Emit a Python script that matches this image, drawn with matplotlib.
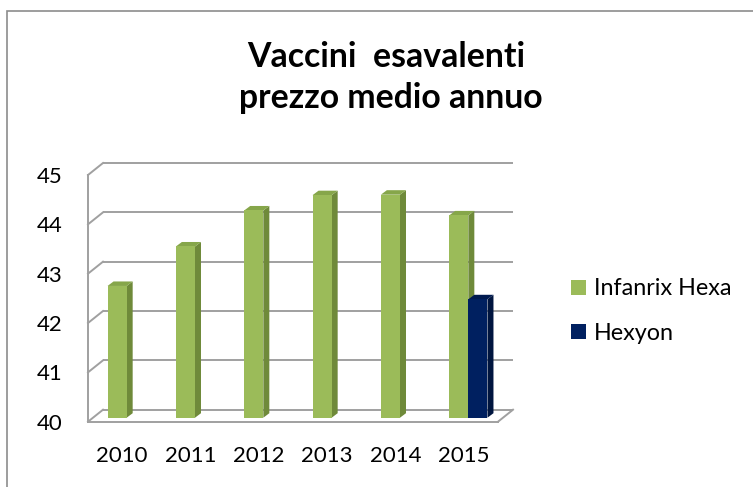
import matplotlib
matplotlib.use("Agg")
import matplotlib.pyplot as plt
from matplotlib.patches import Polygon, Rectangle
from matplotlib.transforms import IdentityTransform, offset_copy
from matplotlib.lines import Line2D
import numpy as np

# ---- data ----
years = ["2010", "2011", "2012", "2013", "2014", "2015"]
infanrix = [42.67, 43.47, 44.2, 44.51, 44.52, 44.1]
hexyon = [np.nan, np.nan, np.nan, np.nan, np.nan, 42.4]
series_names = ["Infanrix Hexa", "Hexyon"]
yticks = [40, 41, 42, 43, 44, 45]
title_lines = ["Vaccini  esavalenti", "prezzo medio annuo"]

FONT = "Lato"
plt.rcParams["font.family"] = [FONT, "DejaVu Sans"]

W, H = 753, 487
DPI = 100
fig = plt.figure(figsize=(W / DPI, H / DPI), dpi=DPI)
fig.patch.set_facecolor("white")

# outer frame
fig.add_artist(Rectangle((7 / W, -0.05), 1.2, (H - 11) / H + 0.05,
                         transform=fig.transFigure, fill=False,
                         edgecolor="#8c8c8c", lw=1.2))

# front plane axes
left_px, right_px, bot_px, top_px = 88, 498, 421.7, 175
ax = fig.add_axes([left_px / W, (H - bot_px) / H, (right_px - left_px) / W,
                   (bot_px - top_px) / H])
ax.set_xlim(-0.5, len(years) - 0.5)
ax.set_ylim(yticks[0], yticks[-1])
ax.patch.set_alpha(0)
for s in ax.spines.values():
    s.set_visible(False)

BACK = (15, 12)      # back wall offset (px)
BAR = (4.5, 4)       # bar plane offset (px)
DEPTH = (6, 4.5)     # bar depth (px)
gcol = "#a0a0a0"
glw = 1.4

back_tr = offset_copy(ax.transData, fig, x=BACK[0], y=BACK[1], units="dots")
x0, x1 = ax.get_xlim()
# back wall gridlines + left wall diagonals
for v in yticks:
    ax.plot([x0, x1], [v, v], color=gcol, lw=glw, transform=back_tr,
            solid_capstyle="butt", clip_on=False, zorder=1)
    p = ax.transData.transform((x0, v))
    ax.add_line(Line2D([p[0], p[0] + BACK[0]], [p[1], p[1] + BACK[1]],
                       transform=IdentityTransform(), color=gcol, lw=glw,
                       clip_on=False, zorder=1))
# front left vertical
ax.plot([x0, x0], [yticks[0], yticks[-1]], color=gcol, lw=glw,
        clip_on=False, zorder=1)
# floor front edge and right diagonal
ax.plot([x0, x1], [yticks[0], yticks[0]], color=gcol, lw=glw,
        clip_on=False, zorder=1)
p = ax.transData.transform((x1, yticks[0]))
ax.add_line(Line2D([p[0], p[0] + BACK[0]], [p[1], p[1] + BACK[1]],
                   transform=IdentityTransform(), color=gcol, lw=glw,
                   clip_on=False, zorder=1))

# bars
x = np.arange(len(years))
bw = 0.28
cols = [("#9bbb59", "#6f8a3a", "#86a64a"), ("#002060", "#00153f", "#001a50")]
bar_tr = offset_copy(ax.transData, fig, x=BAR[0], y=BAR[1], units="dots")
base = yticks[0]
handles = []
for i, (vals, (cf, cs, ct)) in enumerate(zip([infanrix, hexyon], cols)):
    heights = [v - base for v in vals]
    bars = ax.bar(x + (i - 0.5) * bw, heights, bw, bottom=base, color=cf,
                  label=series_names[i], zorder=3, clip_on=False)
    handles.append(bars)
    for b in bars:
        b.set_transform(bar_tr)
        if not np.isfinite(b.get_height()):
            continue
        bx0, bx1 = b.get_x(), b.get_x() + b.get_width()
        by0, by1 = base, base + b.get_height()
        o = np.array(BAR, float)
        d = np.array(DEPTH, float)
        pa = ax.transData.transform((bx1, by0)) + o
        pb = ax.transData.transform((bx1, by1)) + o
        pc = ax.transData.transform((bx0, by1)) + o
        ax.add_patch(Polygon([pa, pb, pb + d, pa + d], closed=True,
                             transform=IdentityTransform(), facecolor=cs,
                             edgecolor="none", zorder=2.9, clip_on=False))
        ax.add_patch(Polygon([pc, pb, pb + d, pc + d], closed=True,
                             transform=IdentityTransform(), facecolor=ct,
                             edgecolor="none", zorder=2.9, clip_on=False))

# ticks
ax.set_yticks(yticks)
ax.set_yticklabels([str(t) for t in yticks])
ax.set_xticks(x)
ax.set_xticklabels(years)
ax.tick_params(axis="y", length=0, pad=18, labelsize=16)
ax.tick_params(axis="x", length=0, pad=17.5, labelsize=16)

# title
fig.text(386 / W, 1 - 66.7 / H, title_lines[0], ha="center", va="baseline",
         fontsize=24.3, fontweight="bold")
fig.text(391 / W, 1 - 108.3 / H, title_lines[1], ha="center", va="baseline",
         fontsize=24.3, fontweight="bold")

# legend
leg = fig.legend(handles=handles, labels=series_names, loc="upper left",
                 bbox_to_anchor=(555 / W, 1 - 262 / H), frameon=False,
                 fontsize=16.8, handlelength=0.62, handleheight=0.62,
                 handletextpad=0.35, labelspacing=1.0, borderpad=0.2)

fig.savefig("out.png", dpi=DPI)
